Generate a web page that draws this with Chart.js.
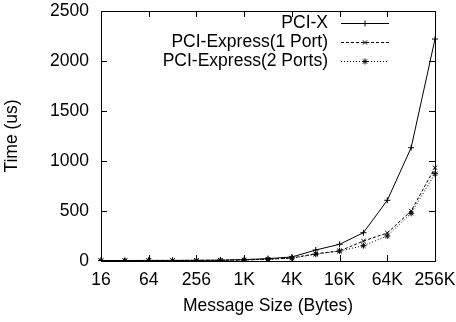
<!DOCTYPE html>
<html>
<head>
<meta charset="utf-8">
<script src="https://cdn.jsdelivr.net/npm/chart.js@4/dist/chart.umd.min.js"></script>
<style>
  body { margin: 0; background: #fff; }
</style>
</head>
<body>
<canvas id="chart" width="456" height="322"></canvas>
<script>
var sizes = ['16', '32', '64', '128', '256', '512', '1K', '2K', '4K', '8K', '16K', '32K', '64K', '128K', '256K'];
var pcix = [5, 5, 6, 6, 7, 8, 14, 24, 40, 110, 167, 283, 607, 1133, 2220];
var pcie1 = [4, 4, 5, 5, 6, 7, 11, 18, 30, 73, 100, 200, 280, 500, 933];
var pcie2 = [4, 4, 5, 5, 6, 7, 10, 17, 28, 67, 100, 153, 250, 477, 873];
var yTicks = [0, 500, 1000, 1500, 2000, 2500];

var font = "'Liberation Sans', Arial, sans-serif";
var fsize = 17.5;

// gnuplot style frame, inward ticks and a legend in the top right corner
var gnuplotFrame = {
    id: 'gnuplotFrame',
    afterDraw: function(chart) {
        var ctx = chart.ctx;
        var a = chart.chartArea;
        var xs = chart.scales.x, ys = chart.scales.y;
        ctx.save();
        ctx.strokeStyle = '#000';
        ctx.lineWidth = 1;
        ctx.setLineDash([]);
        ctx.strokeRect(Math.round(a.left) + 0.5, Math.round(a.top) + 0.5,
            Math.round(a.right - a.left), Math.round(a.bottom - a.top));
        ctx.beginPath();
        yTicks.forEach(function(v) {
            var y = Math.round(ys.getPixelForValue(v)) + 0.5;
            ctx.moveTo(a.left, y); ctx.lineTo(a.left + 6, y);
            ctx.moveTo(a.right, y); ctx.lineTo(a.right - 6, y);
        });
        sizes.forEach(function(s, i) {
            if (i % 2) return;
            var x = Math.round(xs.getPixelForValue(i)) + 0.5;
            ctx.moveTo(x, a.bottom); ctx.lineTo(x, a.bottom - 6);
            ctx.moveTo(x, a.top); ctx.lineTo(x, a.top + 6);
        });
        ctx.stroke();

        // legend
        ctx.font = fsize + 'px ' + font;
        ctx.fillStyle = '#000';
        ctx.textAlign = 'right';
        ctx.textBaseline = 'middle';
        var textRight = a.right - 107;
        var lineL = a.right - 94, lineR = a.right - 46;
        chart.data.datasets.forEach(function(ds, i) {
            var y = a.top + 12 + i * 19;
            ctx.fillText(ds.label, textRight, y);
            ctx.beginPath();
            ctx.setLineDash(ds.borderDash || []);
            ctx.moveTo(lineL, y + 0.5);
            ctx.lineTo(lineR, y + 0.5);
            ctx.stroke();
            ctx.setLineDash([]);
            Chart.helpers.drawPoint(ctx, {
                pointStyle: ds.pointStyle, radius: 3, rotation: 0, borderWidth: 1
            }, (lineL + lineR) / 2, y + 0.5);
        });
        ctx.restore();
    }
};

new Chart(document.getElementById('chart'), {
    type: 'line',
    data: {
        labels: sizes,
        datasets: [{
            label: 'PCI-X',
            data: pcix,
            borderColor: '#000',
            borderWidth: 1,
            pointStyle: 'cross',
            pointRadius: 3,
            pointBorderColor: '#000',
            pointBorderWidth: 1,
            fill: false
        }, {
            label: 'PCI-Express(1 Port)',
            data: pcie1,
            borderColor: '#000',
            borderWidth: 1,
            borderDash: [3, 2],
            pointStyle: 'crossRot',
            pointRadius: 3,
            pointBorderColor: '#000',
            pointBorderWidth: 1,
            fill: false
        }, {
            label: 'PCI-Express(2 Ports)',
            data: pcie2,
            borderColor: '#000',
            borderWidth: 1,
            borderDash: [1, 2],
            pointStyle: 'star',
            pointRadius: 3,
            pointBorderColor: '#000',
            pointBorderWidth: 1,
            fill: false
        }]
    },
    options: {
        responsive: false,
        animation: false,
        layout: { padding: { left: 0, right: 21, top: 11, bottom: 0 } },
        plugins: {
            legend: { display: false },
            tooltip: { enabled: false }
        },
        scales: {
            x: {
                type: 'category',
                offset: false,
                grid: { display: false, drawTicks: false },
                border: { display: false },
                afterFit: function(scale) {
                    scale.height = 61;
                    scale.paddingLeft = 0;
                    scale.paddingRight = 0;
                },
                ticks: {
                    autoSkip: false,
                    maxRotation: 0,
                    padding: 9,
                    color: '#000',
                    font: { family: font, size: fsize },
                    callback: function(v, i) { return i % 2 ? null : sizes[i]; }
                },
                title: {
                    display: true,
                    text: 'Message Size (Bytes)',
                    color: '#000',
                    font: { family: font, size: fsize },
                    padding: { top: 0, bottom: 5 }
                }
            },
            y: {
                min: 0,
                max: 2500,
                grid: { display: false, drawTicks: false },
                border: { display: false },
                afterFit: function(scale) {
                    scale.width = 101;
                    scale.paddingTop = 0;
                    scale.paddingBottom = 0;
                },
                ticks: {
                    stepSize: 500,
                    padding: 12,
                    color: '#000',
                    font: { family: font, size: fsize },
                    callback: function(v) { return String(v); }
                },
                title: {
                    display: true,
                    text: 'Time (us)',
                    color: '#000',
                    font: { family: font, size: fsize },
                    padding: { top: 2, bottom: 0 }
                }
            }
        }
    },
    plugins: [gnuplotFrame]
});
</script>
</body>
</html>
